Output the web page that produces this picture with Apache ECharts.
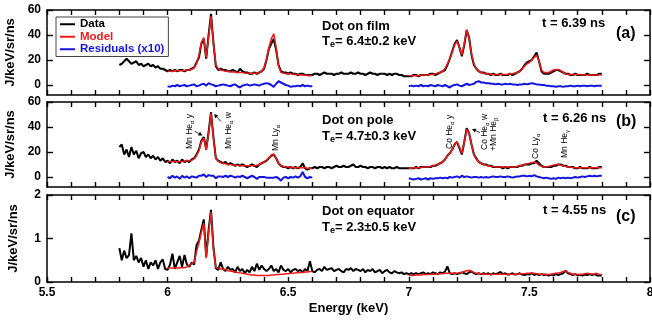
<!DOCTYPE html>
<html><head><meta charset="utf-8">
<script src="https://cdn.jsdelivr.net/npm/echarts@6/dist/echarts.min.js"></script>
<style>html,body{margin:0;padding:0;background:#fff}#c{width:652px;height:323px}</style>
</head><body><div id="c"></div>
<script>
const STEP = 0.01;
const DATA_START = 5.80;
const FIT1_START = 6.00;
const FIT2_START = 7.00;
const yTicksAB = [0, 20, 40, 60];
const dataA = [16,17,19,21,19,17,18,19,16,17,15,16,17,15,16,14,15,13,13,12,11,12,11,12,11,12,12,11,12,12,13,14,18,22,33,37,21,40,57,34,15,12,13,12,12,11,11,12,11,10,13,11,10,10,9,9,10,9,10,11,13,20,29,33,37,28,16,11,10,10,9,10,9,9,8,9,9,8,8,8,8,9,9,8,9,10,9,9,9,8,9,9,10,9,9,9,10,9,9,10,9,9,8,9,10,9,9,8,9,9,9,8,9,8,9,9,8,8,7,7,7,7,8,8,7,8,8,8,8,9,9,8,9,10,11,12,16,21,27,33,36,30,23,32,44,38,24,16,13,11,10,10,9,9,8,9,8,8,9,8,8,8,9,8,9,10,11,13,16,18,19,20,23,26,19,11,9,9,9,10,11,12,12,11,10,9,9,8,8,9,8,8,8,8,9,8,8,8,8,9,9];
const modelA1 = [11,11,11,11.5,11.5,11.5,11.5,11.5,12,12,12.5,14,17,24,34,38,22,38,55,33,16,13,12,11.5,11,11,10.5,10.5,10.5,10,10,10,9.5,9.5,9.5,9.5,9.5,9.5,10,11,14,21,30,37,41,30,15,10,9.5,9,9,9,8.5,8.5,8.5,8,8,8,7.5,7.5,7.5];
const modelA2 = [7.5,7.5,7.5,7.5,7.5,8,8,8,8,8.5,8.5,9,9.5,10,11,13,17,21,26,32,35,30,24,33,44,37,25,17,13,11,10,9.5,9,9,8.5,8.5,8.5,8.5,8.5,8.5,8.5,8.5,9,9,9.5,10,11,13,15,17,18,20,22,24,19,12,10,10,10,11,12,12.5,12.5,11.5,10,9,8.5,8.5,8.5,8.5,8.5,8.5,8,8,8,8,8,8,8,8,8];
const residA1 = [-1,-1.5,-0.5,-1,0,-1,-0.5,0,-1,-0.5,0,0.5,-1,-0.5,0.5,1,-0.5,1.5,0.5,0,-1,-0.5,0,0.5,0,-0.5,-1,0,0.5,-1,-2,-0.5,0,0.5,-0.5,0,0.5,0,-0.5,0.5,1,1.5,1,0,-1.5,1,3,2,1,0,-0.5,-1.5,-1,-1,-0.5,-1,0,-1,-0.5,-1,-1];
const residA2 = [-1,-0.5,-1,-0.5,-1,0,-1,-0.5,-1,0,-0.5,-1,0,-0.5,-1,0,-1,-2,-0.5,0,0.5,-0.5,-1,0,1,0,0.5,1,2.5,3,2,2,1.5,1.5,1,1,0.5,1,0.5,0.5,1,0.5,1,0.5,0.5,0,0.5,0.5,1,0.5,1,1.5,1,0.5,0.5,0,0,-0.5,-0.5,-1,-1,-1.5,-1,-1,-1.5,-1,-1,-0.5,-1,-1,-0.5,-1,-0.5,-0.5,-1,-0.5,-0.5,-1,-0.5,-0.5,-0.5];
const dataB = [24,26,18,22,16,24,18,21,15,19,20,16,18,15,17,14,16,13,15,12,13,11,14,12,13,11,14,12,13,12,14,15,18,22,29,32,22,36,52,32,15,13,12,11,12,10,11,10,9,10,9,10,9,8,9,10,9,8,10,11,12,13,15,17,18,15,11,9,8,8,7,8,7,8,7,8,11,7,6,7,7,8,7,8,8,7,8,8,7,8,9,8,8,9,8,8,9,10,8,8,9,8,8,7,8,8,7,8,8,7,8,7,8,7,7,8,7,7,7,7,7,7,7,8,7,8,8,8,8,8,9,9,10,11,12,14,17,19,22,26,28,23,18,28,39,35,26,18,15,12,11,10,10,9,9,8,8,8,8,7,8,7,8,8,8,8,9,9,10,10,10,11,11,13,11,9,8,8,8,8,9,9,10,10,9,9,8,8,8,7,7,8,7,7,7,8,7,7,7,8,8];
const modelB1 = [12.5,12.5,12.5,12.5,12.5,12.5,12.5,12.5,13,13,13.5,14.5,17,21,28,31,22,35,51,31,15,12.5,11.5,11,10.5,10,10,9.5,9.5,9.5,9,9,9,9,9,9,9,9.5,10,11,12,13.5,15.5,17.5,18.5,15,11,9,8.5,8,8,8,7.5,7.5,7.5,7.5,7.5,7.5,7,7,7];
const modelB2 = [7,7,7.5,7.5,7.5,7.5,8,8,8,8.5,9,9.5,10,11,12,14,17,19,22,26,28,24,19,28,38,35,26,18,14,12,11,10,9.5,9,8.5,8.5,8,8,8,8,8,8,8,8,8,8.5,9,9.5,10,10.5,11,11.5,12,11,9.5,8.5,8,8,8.5,9,9.5,10,10,9.5,9,8.5,8,8,7.5,7.5,7.5,7.5,7.5,7.5,7.5,7.5,7.5,7.5,7.5,7.5,7.5];
const residB1 = [0,-1,1,-0.5,0.5,-1.5,1,-0.5,0.5,-1,0.5,0,-0.5,1,1,2,0,1.5,1,1,-1,0.5,0.5,0,1,0,1,0.5,-0.5,0.5,0,1,0,-1,0,1,0,-1.5,0,0,0,-0.5,-0.5,-0.5,-0.5,0,-1,-3,-0.5,0,-1,0,-0.5,0.5,-0.5,0.5,4,0,-1,0,-0.5];
const residB2 = [-1,-1.5,-2,-1.5,-1,-2,-1.5,-1,-2,-1,-1.5,-1,-1,-0.5,-1,-0.5,-1,0,-0.5,0,0.5,-0.5,1,0,0.5,0,-0.5,0,0,-0.5,0,-0.5,0,-0.5,0,0.5,0,0,0.5,0,0,0.5,0,-0.5,0,0.5,0.5,1,1,0.5,1,0.5,1.5,0.5,0,-0.5,-1,-0.5,-1,-1.5,-1,-1.5,-0.5,-1,-0.5,-1,-0.5,-1,-0.5,0,-0.5,0,0.5,0,0.5,1,0.5,1,0.5,1,1];
const dataC = [0.78,0.5,0.72,0.55,0.62,1.12,0.5,0.6,0.45,0.55,0.35,0.5,0.3,0.45,0.38,0.5,0.3,0.45,0.52,0.3,0.28,0.4,0.65,0.3,0.45,0.6,0.35,0.62,0.4,0.35,0.45,0.4,0.85,0.95,1.2,1.44,0.58,1.2,1.66,0.8,0.32,0.28,0.45,0.3,0.25,0.35,0.28,0.3,0.22,0.35,0.25,0.3,0.2,0.28,0.22,0.35,0.25,0.42,0.28,0.38,0.3,0.25,0.3,0.38,0.25,0.3,0.22,0.38,0.28,0.25,0.3,0.22,0.28,0.3,0.25,0.28,0.22,0.3,0.25,0.48,0.25,0.22,0.28,0.3,0.25,0.35,0.28,0.3,0.32,0.25,0.28,0.3,0.25,0.22,0.3,0.28,0.32,0.25,0.3,0.28,0.25,0.3,0.22,0.28,0.25,0.3,0.22,0.25,0.28,0.2,0.25,0.28,0.22,0.2,0.25,0.22,0.2,0.22,0.18,0.2,0.18,0.2,0.18,0.2,0.18,0.2,0.22,0.18,0.2,0.18,0.22,0.2,0.18,0.22,0.2,0.24,0.36,0.2,0.18,0.2,0.18,0.2,0.22,0.2,0.18,0.22,0.24,0.2,0.18,0.2,0.18,0.2,0.18,0.2,0.17,0.2,0.18,0.2,0.23,0.18,0.2,0.17,0.18,0.2,0.17,0.18,0.2,0.17,0.16,0.18,0.17,0.2,0.16,0.18,0.16,0.18,0.16,0.17,0.15,0.17,0.15,0.18,0.16,0.18,0.2,0.26,0.2,0.18,0.16,0.18,0.15,0.17,0.15,0.17,0.16,0.18,0.16,0.18,0.15,0.15,0.15];
const modelC1 = [0.32,0.32,0.32,0.32,0.32,0.33,0.33,0.33,0.35,0.38,0.42,0.45,0.7,0.9,1.15,1.35,0.55,1.15,1.6,0.75,0.34,0.32,0.3,0.3,0.28,0.26,0.25,0.24,0.23,0.22,0.21,0.2,0.19,0.18,0.17,0.16,0.16,0.15,0.15,0.15,0.15,0.15,0.15,0.16,0.16,0.17,0.17,0.18,0.18,0.19,0.19,0.2,0.2,0.21,0.21,0.22,0.22,0.23,0.23,0.24,0.24];
const modelC2 = [0.15,0.15,0.15,0.16,0.16,0.16,0.17,0.17,0.17,0.18,0.18,0.18,0.19,0.19,0.19,0.2,0.2,0.2,0.2,0.2,0.2,0.21,0.22,0.24,0.26,0.27,0.25,0.22,0.2,0.19,0.19,0.18,0.18,0.18,0.18,0.18,0.18,0.18,0.18,0.18,0.18,0.18,0.18,0.18,0.18,0.18,0.19,0.19,0.19,0.2,0.2,0.21,0.2,0.19,0.18,0.18,0.18,0.17,0.17,0.18,0.19,0.2,0.21,0.22,0.24,0.26,0.22,0.2,0.18,0.18,0.17,0.17,0.18,0.19,0.2,0.19,0.18,0.19,0.2,0.17,0.17];

const FAM = '"Liberation Sans", Arial, Helvetica, sans-serif';
const BLACK = '#000000', RED = '#ee1b1b', BLUE = '#1414e0';
function xy(start, vals) { return vals.map((v, i) => [Math.round((start + i * STEP) * 100) / 100, v]); }
const grids = [
  {left: 47, right: 2, top: 10, height: 85, outerBoundsMode: 'none'},
  {left: 47, right: 2, top: 102, height: 85, outerBoundsMode: 'none'},
  {left: 47, right: 2, top: 195, height: 87, outerBoundsMode: 'none'}
];
function mkLine() { return {show: true, onZero: false, lineStyle: {color: BLACK, width: 1.5}}; }
function isHalf(v) { return Math.abs(v * 2 - Math.round(v * 2)) < 1e-6; }
const xAxes = [], yAxes = [];
for (let g = 0; g < 3; g++) {
  ['bottom', 'top'].forEach(pos => {
    const labeled = (g === 2 && pos === 'bottom');
    const ax = {
      type: 'value', gridIndex: g, position: pos, min: 5.5, max: 8, interval: 0.1,
      axisLine: mkLine(),
      axisTick: {show: true, inside: true, length: 5, lineStyle: {color: BLACK, width: 1.4}},
      splitLine: {show: false},
      axisLabel: {show: labeled, margin: 5, color: BLACK, fontFamily: FAM, fontWeight: 'bold', fontSize: 12,
        formatter: v => isHalf(v) ? String(Math.round(v * 10) / 10) : ''}
    };
    if (labeled) {
      ax.name = 'Energy (keV)'; ax.nameLocation = 'middle'; ax.nameGap = 20;
      ax.nameTextStyle = {fontFamily: FAM, fontWeight: 'bold', fontSize: 13, color: BLACK};
    }
    xAxes.push(ax);
  });
  ['left', 'right'].forEach(pos => {
    const labeled = pos === 'left';
    const ax = {type: 'value', gridIndex: g, position: pos, axisLine: mkLine(), splitLine: {show: false}};
    if (labeled) {
      ax.name = 'J/keV/sr/ns'; ax.nameLocation = 'middle'; ax.nameGap = 27;
      ax.nameTextStyle = {fontFamily: FAM, fontWeight: 'bold', fontSize: 13, color: BLACK};
    }
    if (g < 2) {
      ax.min = -8; ax.max = 60;
      ax.axisTick = {show: true, inside: true, length: 6, customValues: yTicksAB, lineStyle: {color: BLACK, width: 1.4}};
      ax.axisLabel = {show: labeled, customValues: yTicksAB, margin: 6, color: BLACK, fontFamily: FAM, fontWeight: 'bold', fontSize: 12};
    } else {
      ax.min = 0; ax.max = 2; ax.interval = 1;
      ax.axisTick = {show: true, inside: true, length: 6, lineStyle: {color: BLACK, width: 1.4}};
      ax.axisLabel = {show: labeled, margin: 6, color: BLACK, fontFamily: FAM, fontWeight: 'bold', fontSize: 12};
    }
    yAxes.push(ax);
  });
}
function line(name, g, start, vals, color, width, z) {
  return {name: name, type: 'line', xAxisIndex: 2 * g, yAxisIndex: 2 * g, data: xy(start, vals),
    showSymbol: false, symbol: 'none', lineStyle: {color: color, width: width}, itemStyle: {color: color}, z: z};
}
const series = [
  line('Data', 0, DATA_START, dataA, BLACK, 2, 2),
  line('Model', 0, FIT1_START, modelA1, RED, 1.5, 3),
  line('Model', 0, FIT2_START, modelA2, RED, 1.5, 3),
  line('Residuals (x10)', 0, FIT1_START, residA1, BLUE, 2, 3),
  line('Residuals (x10)', 0, FIT2_START, residA2, BLUE, 2, 3),
  line('Data', 1, DATA_START, dataB, BLACK, 2, 2),
  line('Model', 1, FIT1_START, modelB1, RED, 1.5, 3),
  line('Model', 1, FIT2_START, modelB2, RED, 1.5, 3),
  line('Residuals (x10)', 1, FIT1_START, residB1, BLUE, 2, 3),
  line('Residuals (x10)', 1, FIT2_START, residB2, BLUE, 2, 3),
  line('Data', 2, DATA_START, dataC, BLACK, 2, 2),
  line('Model', 2, FIT1_START, modelC1, RED, 1.5, 3),
  line('Model', 2, FIT2_START, modelC2, RED, 1.5, 3)
];
const B13 = 'bold 13px ' + FAM;
function txt(x, y, text, font) {
  return {type: 'text', x: x, y: y, silent: true, style: {text: text, font: font || B13, fill: BLACK, align: 'left', verticalAlign: 'middle'}};
}
function teText(x, y, val) {
  return {type: 'text', x: x, y: y, silent: true, style: {
    text: '{a|T}{b|e}{a|= ' + val + ' keV}', align: 'left', verticalAlign: 'middle', fill: BLACK,
    rich: {a: {font: B13, fill: BLACK, lineHeight: 16}, b: {font: 'bold 9px ' + FAM, fill: BLACK, lineHeight: 9, verticalAlign: 'bottom'}}}};
}
function vlabel(x, y, parts) {
  return {type: 'text', x: x, y: y, rotation: Math.PI / 2, silent: true, style: {
    text: parts, align: 'left', verticalAlign: 'middle', fill: BLACK,
    rich: {n: {font: '8.5px ' + FAM, fill: BLACK, lineHeight: 10}, s: {font: '6px ' + FAM, fill: BLACK, lineHeight: 6, verticalAlign: 'bottom'}}}};
}
function arrow(x1, y1, x2, y2) {
  const a = Math.atan2(y2 - y1, x2 - x1), L = 4, W = 2;
  const bx = x2 - L * Math.cos(a), by = y2 - L * Math.sin(a);
  const px = -Math.sin(a) * W, py = Math.cos(a) * W;
  return [
    {type: 'line', silent: true, shape: {x1: x1, y1: y1, x2: bx, y2: by}, style: {stroke: BLACK, lineWidth: 0.8}},
    {type: 'polygon', silent: true, shape: {points: [[x2, y2], [bx + px, by + py], [bx - px, by - py]]}, style: {fill: BLACK}}
  ];
}
const graphics = [
  txt(322, 26, 'Dot on film'), teText(322, 41, '6.4±0.2'),
  txt(542, 23, 't = 6.39 ns'), txt(616, 34, '(a)', 'bold 16px ' + FAM),
  txt(322, 120, 'Dot on pole'), teText(322, 136, '4.7±0.3'),
  txt(543, 118, 't = 6.26 ns'), txt(616, 122, '(b)', 'bold 16px ' + FAM),
  txt(322, 211.5, 'Dot on equator'), teText(322, 227, '2.3±0.5'),
  txt(543, 210.5, 't = 4.55 ns'), txt(616, 217, '(c)', 'bold 16px ' + FAM),
  vlabel(190, 149, '{n|Mn He}{s|α}{n| y}'),
  vlabel(229, 149, '{n|Mn He}{s|α}{n| w}'),
  vlabel(276, 151, '{n|Mn Ly}{s|α}'),
  vlabel(450, 149, '{n|Co He}{s|α}{n| y}'),
  vlabel(485, 150, '{n|Co He}{s|α}{n| w}'),
  vlabel(494, 151, '{n|+Mn He}{s|β}'),
  vlabel(536, 159, '{n|Co Ly}{s|α}'),
  vlabel(565, 158, '{n|Mn He}{s|γ}')
].concat(arrow(195, 131.5, 202.5, 135.5), arrow(221, 121.5, 214, 114), arrow(480, 132.5, 472, 129));

const chart = echarts.init(document.getElementById('c'));
chart.setOption({
  animation: false, backgroundColor: '#ffffff',
  grid: grids, xAxis: xAxes, yAxis: yAxes,
  legend: {
    orient: 'vertical', left: 56, top: 17, padding: [1, 4, 1, 4], itemGap: 0,
    itemWidth: 15, itemHeight: 2, icon: 'rect', borderColor: '#444', borderWidth: 1,
    selectedMode: false, backgroundColor: '#fff', z: 10,
    textStyle: {fontFamily: FAM, fontWeight: 'bold', fontSize: 11.5, lineHeight: 12.5},
    data: [{name: 'Data', textStyle: {color: BLACK}}, {name: 'Model', textStyle: {color: RED}}, {name: 'Residuals (x10)', textStyle: {color: BLUE}}]
  },
  series: series, graphic: graphics
});
</script></body></html>
